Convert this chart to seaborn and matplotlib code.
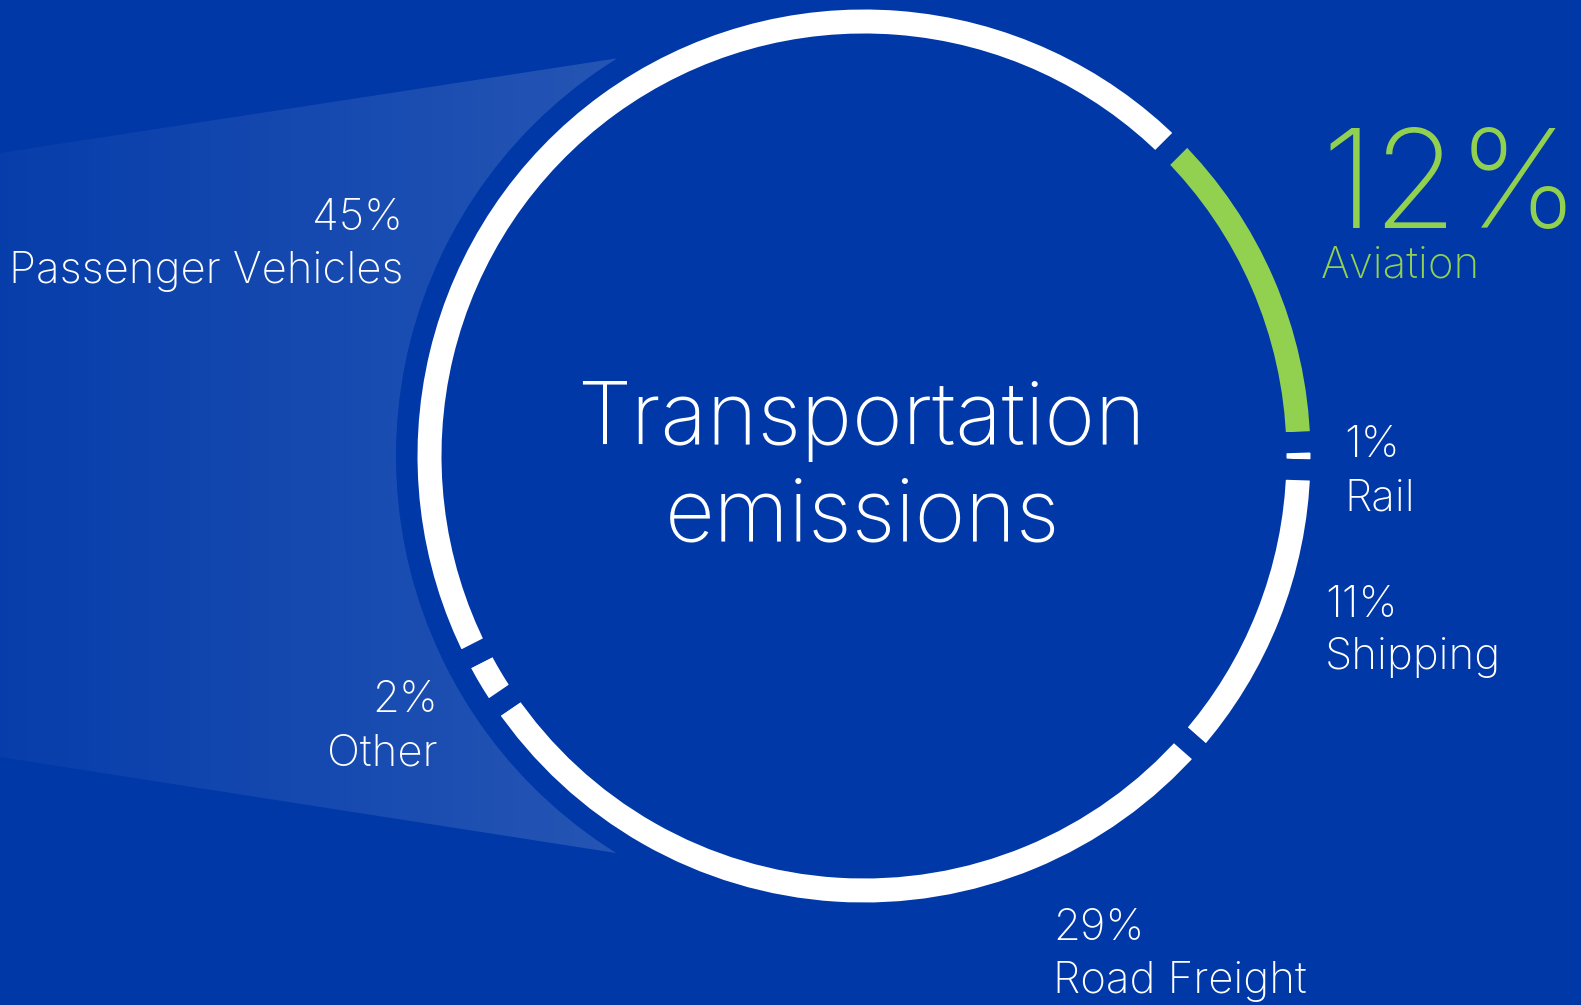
import numpy as np
import matplotlib
matplotlib.use("Agg")
import matplotlib.pyplot as plt
from matplotlib.patches import Polygon, Circle
import seaborn as sns

# Share of transportation emissions by sector (clockwise from the aviation arc)
sectors = ["Aviation", "Rail", "Shipping", "Road Freight", "Other", "Passenger Vehicles"]
shares = [12, 1, 11, 29, 2, 45]
highlight = "Aviation"

center_title = ["Transportation", "emissions"]

BG = "#0038A8"
WHITE = "#FFFFFF"
GREEN = "#92D050"

sns.set_theme(style="white")
plt.rcParams["font.family"] = ["Inter", "DejaVu Sans"]
plt.rcParams["font.weight"] = "light"

W, H = 1581, 1005
fig = plt.figure(figsize=(W / 100, H / 100), dpi=100, facecolor=BG)
ax = fig.add_axes([0, 0, 1, 1])
ax.set_facecolor(BG)
renderer = fig.canvas.get_renderer()


def Y(y):
    # image-style y (from top) to data y (from bottom)
    return H - y


def fit_size(text, width_px, **kw):
    # font size (pt) at which `text` spans roughly width_px pixels
    probe = ax.text(0, 0, text, fontsize=50, **kw)
    w = probe.get_window_extent(renderer).width
    probe.remove()
    return 50 * width_px / w


cx, cy = 864, Y(456)
ring_outer, ring_inner = 446.5, 422.5
gap_px = 21
halo_r = 468

# light beam on the left, fading towards the edge of the canvas
beam = Polygon([(0, Y(153)), (616, Y(58.5)), (cx, cy), (616, Y(853)), (0, Y(757))],
               closed=True, facecolor="none", edgecolor="none")
ax.add_patch(beam)
grad = np.zeros((2, 400, 4))
grad[..., :3] = 1.0
grad[..., 3] = np.linspace(0.03, 0.15, 400)[None, :]
img = ax.imshow(grad, extent=(0, 620, Y(900), Y(0)), origin="lower",
                aspect="auto", interpolation="bilinear", zorder=1)
img.set_clip_path(beam)

# dark halo separating the ring from the beam
ax.add_patch(Circle((cx, cy), halo_r, facecolor=BG, edgecolor="none", zorder=2))

# the ring itself; background-coloured wedge edges cut the gaps between sectors
colors = [GREEN if s == highlight else WHITE for s in sectors]
lw_pt = gap_px * 72 / 100
wedges, _ = ax.pie(
    shares, colors=colors, startangle=45, counterclock=False,
    center=(cx, cy), radius=ring_outer + gap_px / 2,
    wedgeprops=dict(width=(ring_outer - ring_inner) + gap_px, edgecolor=BG,
                    linewidth=lw_pt, joinstyle="round", zorder=3),
    frame=True,
)

ax.set_xlim(0, W)
ax.set_ylim(0, H)
ax.set_aspect("equal")
ax.axis("off")

# sector labels: (x, pct baseline, name baseline, align, name width px, pct width px)
layout = {
    "Passenger Vehicles": (403, 230, 283, "right", 386, None),
    "Aviation": (1321, 228, 277, "left", 153, 258),
    "Rail": (1344, 457, 510, "left", None, None),
    "Shipping": (1325, 617, 669, "left", 176, None),
    "Other": (438, 712, 765, "right", 111, None),
    "Road Freight": (1053, 940, 993, "left", 255, None),
}
label_sizes = [fit_size(n, layout[n][4]) for n in sectors if layout[n][4]]
base_size = float(np.median(label_sizes))

for name, val in zip(sectors, shares):
    x, yp, yn, ha, wn, wp = layout[name]
    col = GREEN if name == highlight else WHITE
    sp = fit_size(f"{val}%", wp) if wp else base_size
    ax.text(x, Y(yp), f"{val}%", ha=ha, va="baseline", fontsize=sp,
            color=col, zorder=5)
    ax.text(x, Y(yn), name, ha=ha, va="baseline", fontsize=base_size,
            color=col, zorder=5)

title_size = fit_size(center_title[0], 570)
ax.text(861, Y(444), center_title[0], ha="center", va="baseline",
        fontsize=title_size, color=WHITE, zorder=5)
ax.text(863, Y(540), center_title[1], ha="center", va="baseline",
        fontsize=title_size, color=WHITE, zorder=5)

fig.savefig("out.png", dpi=100, facecolor=BG)
